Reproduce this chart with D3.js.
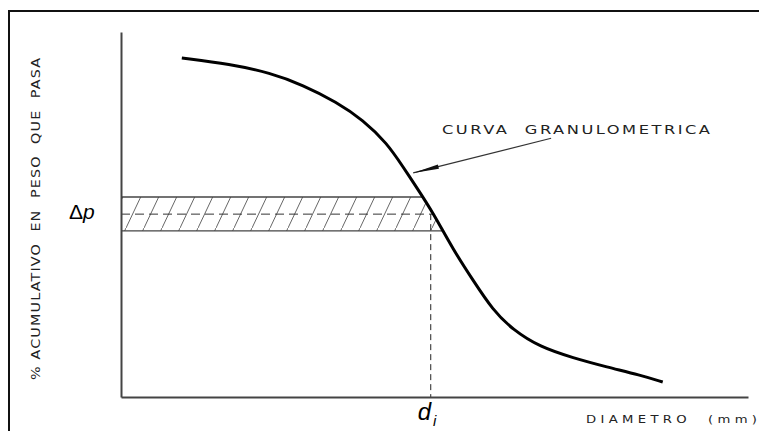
<!DOCTYPE html>
<html>
<head>
<meta charset="utf-8">
<script src="https://cdn.jsdelivr.net/npm/d3@7"></script>
<style>
  html, body { margin: 0; padding: 0; background: #fff; }
  svg { display: block; }
  text { white-space: pre; }
</style>
</head>
<body>
<div id="chart"></div>
<script>
// curve points (diametro, % que pasa) in arbitrary 0-100 units
var curveX = [9.7, 17.4, 23.8, 29.0, 34.4, 38.6, 42.4, 45.0, 47.2, 49.8, 53.0, 56.1, 59.3, 62.5, 66.8, 72.1, 77.5, 82.8, 86.4];
var curveY = [92.9, 91.2, 88.8, 85.5, 80.8, 75.9, 69.6, 63.0, 57.3, 50.4, 40.3, 32.1, 23.8, 18.4, 13.7, 10.7, 8.2, 6.0, 4.1];

// delta p band and d_i
var bandTop = 54.8;
var bandMid = 50.1;
var bandBottom = 45.5;
var di = 49.4;

// annotation arrow (from label down to curve)
var arrowFrom = [68.6, 70.9];
var arrowTo = [46.6, 61.4];

var labels = {
  y: "% ACUMULATIVO  EN  PESO  QUE  PASA",
  x: "DIAMETRO  (mm)",
  curve: "CURVA  GRANULOMETRICA"
};

var width = 759, height = 431;

var svg = d3.select("#chart").append("svg")
  .attr("width", width)
  .attr("height", height);

var x = d3.scaleLinear().domain([0, 100]).range([121, 748]);
var y = d3.scaleLinear().domain([0, 100]).range([397, 32]);

var pts = curveX.map(function (d, i) { return [d, curveY[i]]; });

var line = d3.line()
  .x(function (d) { return x(d[0]); })
  .y(function (d) { return y(d[1]); })
  .curve(d3.curveBasis);

var defs = svg.append("defs");

// hatch pattern
var pat = defs.append("pattern")
  .attr("id", "hatch")
  .attr("patternUnits", "userSpaceOnUse")
  .attr("width", 18)
  .attr("height", 38);
pat.append("line")
  .attr("x1", -2).attr("y1", 38 + 38 * 2 / 18)
  .attr("x2", 20).attr("y2", -38 * 2 / 18)
  .attr("stroke", "#555").attr("stroke-width", 0.9);

// clip = everything left of the curve
var clipD = line(pts) + "L" + x(0) + "," + y(curveY[curveY.length - 1]) +
  "L" + x(0) + "," + y(curveY[0]) + "Z";
defs.append("clipPath").attr("id", "leftOfCurve")
  .append("path").attr("d", clipD);

// outer frame
svg.append("rect")
  .attr("x", 9).attr("y", 11)
  .attr("width", 780).attr("height", 440)
  .attr("fill", "none")
  .attr("stroke", "#111")
  .attr("stroke-width", 2);

// band
var band = svg.append("g").attr("clip-path", "url(#leftOfCurve)");
band.append("rect")
  .attr("x", x(0)).attr("y", y(bandTop))
  .attr("width", x(100) - x(0))
  .attr("height", y(bandBottom) - y(bandTop))
  .attr("fill", "url(#hatch)");
[bandTop, bandBottom].forEach(function (v) {
  band.append("line")
    .attr("x1", x(0)).attr("x2", x(100))
    .attr("y1", y(v)).attr("y2", y(v))
    .attr("stroke", "#444").attr("stroke-width", 1.3);
});
band.append("line")
  .attr("x1", x(0)).attr("x2", x(100))
  .attr("y1", y(bandMid)).attr("y2", y(bandMid))
  .attr("stroke", "#333").attr("stroke-width", 1)
  .attr("stroke-dasharray", "9,5");

// vertical dashed at d_i
svg.append("line")
  .attr("x1", x(di)).attr("x2", x(di))
  .attr("y1", y(bandMid)).attr("y2", y(0))
  .attr("stroke", "#222").attr("stroke-width", 1)
  .attr("stroke-dasharray", "6,4");

// axes (lines only)
svg.append("g")
  .attr("transform", "translate(" + x(0) + ",0)")
  .call(d3.axisLeft(y).tickValues([]).tickSizeOuter(0));
svg.append("g")
  .attr("transform", "translate(0," + y(0) + ")")
  .call(d3.axisBottom(x).tickValues([]).tickSizeOuter(0));
svg.selectAll(".domain").attr("stroke", "#444").attr("stroke-width", 2);

// curve
svg.append("path")
  .datum(pts)
  .attr("d", line)
  .attr("fill", "none")
  .attr("stroke", "#000")
  .attr("stroke-width", 3);

// arrow
var ax0 = x(arrowFrom[0]), ay0 = y(arrowFrom[1]);
var ax1 = x(arrowTo[0]), ay1 = y(arrowTo[1]);
var ang = Math.atan2(ay1 - ay0, ax1 - ax0);
svg.append("line")
  .attr("x1", ax0).attr("y1", ay0)
  .attr("x2", ax1).attr("y2", ay1)
  .attr("stroke", "#333").attr("stroke-width", 1.2);
var hl = 26, hw = 2.2;
var bx = ax1 - hl * Math.cos(ang), by = ay1 - hl * Math.sin(ang);
svg.append("path")
  .attr("d", "M" + ax1 + "," + ay1 +
    "L" + (bx - hw * Math.sin(ang)) + "," + (by + hw * Math.cos(ang)) +
    "L" + (bx + hw * Math.sin(ang)) + "," + (by - hw * Math.cos(ang)) + "Z")
  .attr("fill", "#111");

// wide technical lettering: horizontally stretched glyphs, spaced to a length
function wideText(tx, ty, rot, str, size, sx, len) {
  svg.append("g")
    .attr("transform", "translate(" + tx + "," + ty + ") rotate(" + rot + ") scale(" + sx + ",1)")
    .append("text")
    .attr("textLength", len / sx)
    .attr("lengthAdjust", "spacing")
    .attr("font-family", "DejaVu Sans, sans-serif")
    .attr("font-size", size)
    .attr("fill", "#222")
    .text(str);
}

wideText(442, 133.5, 0, labels.curve, 13, 1.25, 268);
wideText(40, 380, -90, labels.y, 13, 1.1, 322);
wideText(586, 423, 0, labels.x, 11, 1.2, 171);

var dp = svg.append("text")
  .attr("x", 69).attr("y", 219)
  .attr("font-family", "Liberation Sans, Arial, sans-serif")
  .attr("font-size", 21)
  .attr("fill", "#000");
dp.append("tspan").text("\u0394");
dp.append("tspan").attr("font-style", "italic").text("p");

var dt = svg.append("text")
  .attr("x", x(di) - 13).attr("y", 420)
  .attr("font-family", "Liberation Sans, Arial, sans-serif")
  .attr("font-size", 24)
  .attr("font-style", "italic")
  .attr("fill", "#000");
dt.append("tspan").text("d");
dt.append("tspan").attr("font-size", 15).attr("dx", 2).attr("dy", 6).text("i");
</script>
</body>
</html>
